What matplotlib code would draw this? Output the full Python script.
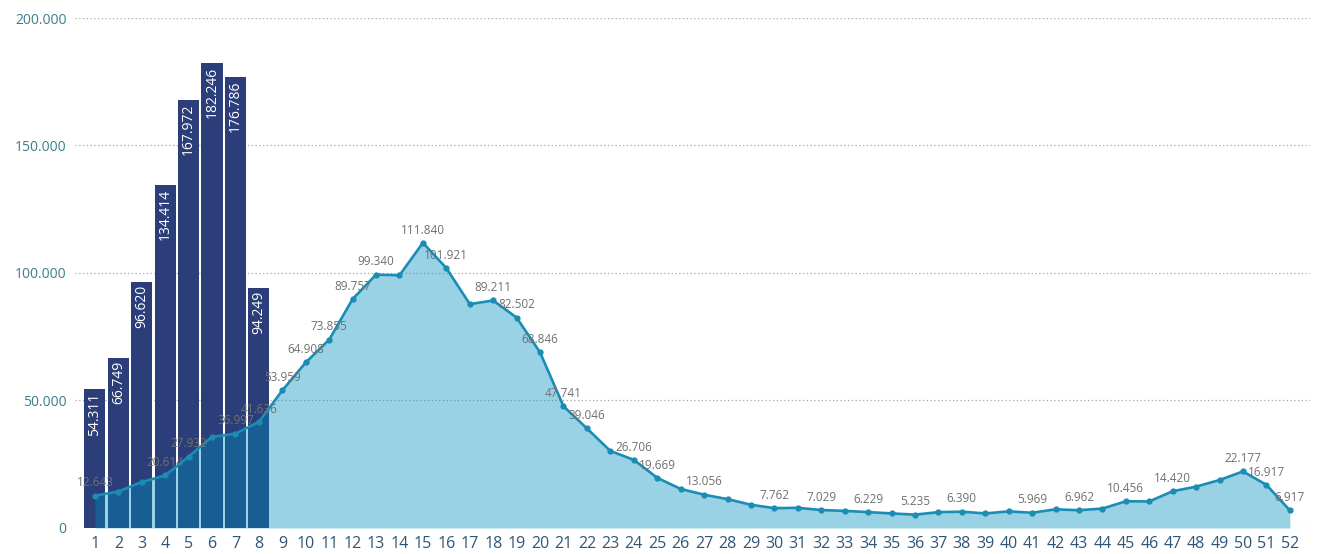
import matplotlib
matplotlib.use("Agg")
import matplotlib.pyplot as plt
from matplotlib.ticker import FuncFormatter
import numpy as np

# --- data ---
weeks = list(range(1, 53))
bar_weeks = [1, 2, 3, 4, 5, 6, 7, 8]
bar_values = [54311, 66749, 96620, 134414, 167972, 182246, 176786, 94249]
line_values = [12643, 14300, 18000, 20614, 27932, 35700, 36997, 41636, 53959, 64908,
               73855, 89757, 99340, 99100, 111840, 101921, 87800, 89211, 82502, 68846,
               47741, 39046, 30200, 26706, 19669, 15300, 13056, 11300, 9100, 7762,
               7900, 7029, 6700, 6229, 5700, 5235, 6200, 6390, 5700, 6500,
               5969, 7300, 6962, 7600, 10456, 10400, 14420, 16200, 18800, 22177,
               16917, 6917]
labeled_weeks = [1, 4, 5, 7, 8, 9, 10, 11, 12, 13, 15, 16, 18, 19, 20, 21, 22, 24, 25,
                 27, 30, 32, 34, 36, 38, 41, 43, 45, 47, 50, 51, 52]
y_ticks = [0, 50000, 100000, 150000, 200000]

# --- style ---
BAR_COLOR = "#2b3e79"
FILL_COLOR = "#008ec0"
LINE_COLOR = "#1a8db5"
plt.rcParams["font.family"] = ["Open Sans", "DejaVu Sans"]


def dotted(v, pos=None):
    return f"{int(v):,}".replace(",", ".")


fig = plt.figure(figsize=(13.27, 5.54), dpi=100)
ax = fig.add_axes([0.0565, 0.047, 0.9305, 0.9205])

# bars
ax.bar(bar_weeks, bar_values, width=0.9, color=BAR_COLOR, zorder=2)
for w, v in zip(bar_weeks, bar_values):
    ax.annotate(dotted(v), (w, v), xytext=(0, -2.5), textcoords="offset points",
                rotation=90, ha="center", va="top", color="white", fontsize=10,
                zorder=5)

# area + line
ax.fill_between(weeks, line_values, 0, color=FILL_COLOR, alpha=0.4, lw=0, zorder=3)
ax.plot(weeks, line_values, color=LINE_COLOR, lw=1.9, marker="o", markersize=3.5,
        zorder=4)
for w in labeled_weeks:
    v = line_values[w - 1]
    ax.annotate(dotted(v), (w, v), xytext=(0, 4.5), textcoords="offset points",
                ha="center", va="bottom", color="#707070", fontsize=8.5, zorder=6)

# axes
ax.set_xlim(0.15, 52.85)
ax.set_ylim(0, 200000)
ax.set_yticks(y_ticks)
ax.yaxis.set_major_formatter(FuncFormatter(dotted))
ax.set_xticks(weeks)
ax.set_xticklabels([str(w) for w in weeks])
ax.tick_params(axis="y", length=0, pad=6, labelsize=10, labelcolor="#3b7d8c")
ax.tick_params(axis="x", length=0, pad=6, labelsize=11.5, labelcolor="#2f5577")
ax.grid(axis="y", linestyle=(0, (1, 2)), color="#a8a8a8", lw=0.9, zorder=0)
ax.set_axisbelow(True)
for s in ax.spines.values():
    s.set_visible(False)

fig.savefig("out.png", dpi=100)
